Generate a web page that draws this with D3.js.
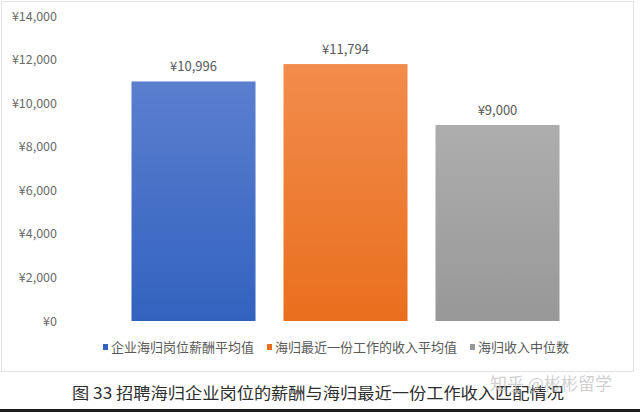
<!DOCTYPE html>
<html><head><meta charset="utf-8">
<script src="https://cdn.jsdelivr.net/npm/d3@7/dist/d3.min.js"></script>
<style>html,body{margin:0;padding:0;background:#fff;}svg{display:block;}</style>
</head><body>
<script>
const categories = ["企业海归岗位薪酬平均值", "海归最近一份工作的收入平均值", "海归收入中位数"];
const values = [10996, 11794, 9000];
const valueLabels = ["¥10,996", "¥11,794", "¥9,000"];
const yTicks = [0, 2000, 4000, 6000, 8000, 10000, 12000, 14000];
const caption = "图 33  招聘海归企业岗位的薪酬与海归最近一份工作收入匹配情况";
const watermark = "知乎 @彬彬留学";
const colors = [["#5b7fcf", "#3262bf"], ["#f28c4c", "#e96f1d"], ["#adadad", "#989898"]];

const W = 640, H = 412;
const font = "'Noto Sans CJK SC', 'Noto Sans', sans-serif";
const svg = d3.select("body").append("svg").attr("width", W).attr("height", H);

const defs = svg.append("defs");
colors.forEach((c, i) => {
  const g = defs.append("linearGradient").attr("id", "g" + i).attr("x1", 0).attr("y1", 0).attr("x2", 0).attr("y2", 1);
  g.append("stop").attr("offset", "0%").attr("stop-color", c[0]);
  g.append("stop").attr("offset", "100%").attr("stop-color", c[1]);
});

// frame
svg.append("rect").attr("x", 1.5).attr("y", 1.5).attr("width", 632).attr("height", 370)
  .attr("fill", "none").attr("stroke", "#e2e2e2").attr("stroke-width", 1);

const y = d3.scaleLinear().domain([0, 14000]).range([321, 16]);
const x = d3.scaleBand().domain(categories).range([117.5, 573.5]).paddingInner(0.184).paddingOuter(0.092);

const yAxis = d3.axisLeft(y).tickValues(yTicks).tickSize(0).tickPadding(0)
  .tickFormat(d => "¥" + d3.format(",")(d));
const ya = svg.append("g").attr("transform", "translate(57,0)").call(yAxis);
ya.select(".domain").remove();
ya.selectAll("text").attr("fill", "#6b6b6b").style("font-family", font).style("font-size", "12.5px");

svg.selectAll("rect.bar").data(values).join("rect").attr("class", "bar")
  .attr("x", (d, i) => x(categories[i]))
  .attr("y", d => y(d))
  .attr("width", x.bandwidth())
  .attr("height", d => y(0) - y(d))
  .attr("fill", (d, i) => `url(#g${i})`);

svg.selectAll("text.vl").data(values).join("text").attr("class", "vl")
  .attr("x", (d, i) => x(categories[i]) + x.bandwidth() / 2)
  .attr("y", d => y(d) - 10)
  .attr("text-anchor", "middle")
  .attr("fill", "#595959").style("font-family", font).style("font-size", "13px")
  .text((d, i) => valueLabels[i]);

// legend
const legX = [103, 267, 470];
const leg = svg.selectAll("g.leg").data(categories).join("g").attr("class", "leg")
  .attr("transform", (d, i) => `translate(${legX[i]},347)`);
leg.append("rect").attr("x", 0).attr("y", -3).attr("width", 5).attr("height", 6)
  .attr("fill", (d, i) => colors[i][1]);
leg.append("text").attr("x", 8).attr("y", 0).attr("dy", "0.35em")
  .attr("fill", "#595959").style("font-family", font).style("font-size", "13px")
  .text(d => d);

// caption
svg.append("text").attr("x", 72).attr("y", 393).attr("dy", "0.35em")
  .attr("fill", "#2e2e2e").style("font-family", font).style("font-size", "16px")
  .attr("textLength", 492).attr("lengthAdjust", "spacingAndGlyphs")
  .text(caption);

// watermark
svg.append("text").attr("x", 490).attr("y", 384).attr("dy", "0.35em")
  .attr("fill", "#c8c8c8").attr("fill-opacity", 0.85).style("font-family", font).style("font-size", "17px")
  .text(watermark);

// bottom dark strip
svg.append("rect").attr("x", 0).attr("y", 409).attr("width", W).attr("height", 3).attr("fill", "#1e1e1e");
</script>
</body></html>
